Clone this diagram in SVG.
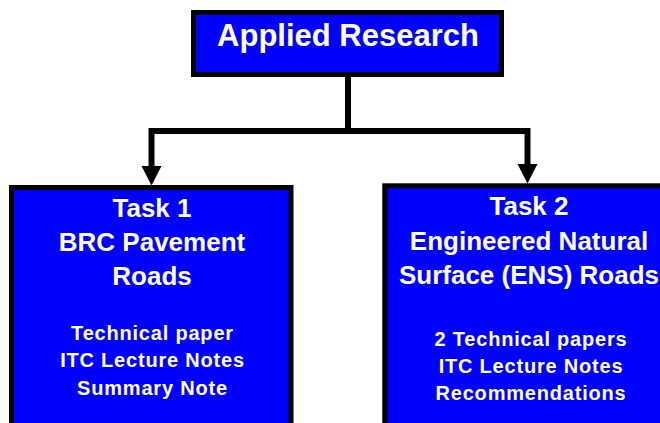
<svg xmlns="http://www.w3.org/2000/svg" width="660" height="423" viewBox="0 0 660 423">
  <style>
    .box { fill: #0000FF; stroke: #000000; stroke-width: 5; }
    .wire { fill: none; stroke: #000000; stroke-width: 6; stroke-linejoin: miter; }
    text { font-family: "Liberation Sans", Arial, sans-serif; font-weight: bold; fill: #FFFFFF; text-anchor: middle; }
    .title { font-size: 31px; }
    .head { font-size: 26px; }
    .item { font-size: 20px; letter-spacing: 0.8px; }
  </style>
  <defs>
    <marker id="arrow" markerUnits="userSpaceOnUse" markerWidth="20" markerHeight="22" refX="0" refY="0" orient="auto" viewBox="0 -11 20 22" overflow="visible">
      <path d="M0,-10 L19.5,0 L0,10 Z" fill="#000000"/>
    </marker>
  </defs>

  <!-- connectors -->
  <g id="connectors">
    <path class="wire" d="M348,77 V131"/>
    <path class="wire" d="M348,131 H151.5 V166" marker-end="url(#arrow)"/>
    <path class="wire" d="M348,131 H527.5 V164" marker-end="url(#arrow)"/>
  </g>

  <!-- root node -->
  <g id="applied-research">
    <rect class="box" x="193.5" y="12.5" width="308" height="62"/>
    <text class="title" x="348" y="46">Applied Research</text>
  </g>

  <!-- task 1 -->
  <g id="task1">
    <rect class="box" x="11.5" y="187.5" width="279.5" height="260"/>
    <text class="head" x="152" y="216.5">Task 1</text>
    <text class="head" x="152" y="251">BRC Pavement</text>
    <text class="head" x="152" y="285">Roads</text>
    <text class="item" x="152.5" y="340">Technical paper</text>
    <text class="item" x="152.5" y="367.3">ITC Lecture Notes</text>
    <text class="item" x="152.5" y="394.6">Summary Note</text>
  </g>

  <!-- task 2 -->
  <g id="task2">
    <rect class="box" x="384.8" y="185.8" width="320" height="260"/>
    <text class="head" x="529" y="215">Task 2</text>
    <text class="head" x="529" y="250">Engineered Natural</text>
    <text class="head" x="529" y="283.5">Surface (ENS) Roads</text>
    <text class="item" x="531" y="345.5">2 Technical papers</text>
    <text class="item" x="531" y="372.8">ITC Lecture Notes</text>
    <text class="item" x="531" y="400">Recommendations</text>
  </g>
</svg>
